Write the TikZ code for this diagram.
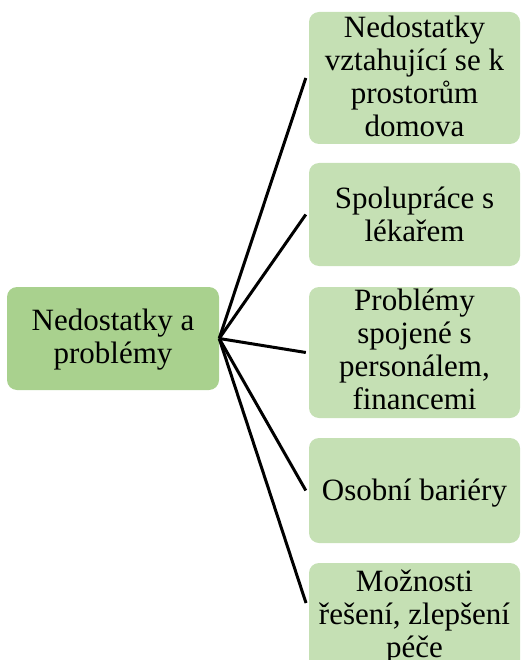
\documentclass[tikz,border=0pt]{standalone}
\usepackage{fontspec}
\setmainfont{Liberation Serif}
\definecolor{hubgreen}{HTML}{A9D18E}
\definecolor{leafgreen}{HTML}{C5E0B4}
\begin{document}
\begin{tikzpicture}[x=1pt,y=-1pt,
  box/.style={rectangle, rounded corners=10pt, inner sep=0pt, draw=none},
  hubbox/.style={box, fill=hubgreen},
  leafbox/.style={box, fill=leafgreen, minimum width=211pt},
  txt/.style={font=\fontsize{31}{33}\selectfont, align=center, anchor=base, inner sep=0pt},
  link/.style={line width=3pt, black}]
\useasboundingbox (0,0) rectangle (521,660);
\clip (0,0) rectangle (521,660);
% boxes
\node[hubbox, minimum width=212pt, minimum height=103pt] (L) at (113,338.5) {};
\node[leafbox, minimum height=132pt] (R1) at (414.5,78) {};
\node[leafbox, minimum height=103pt] (R2) at (414.5,214.5) {};
\node[leafbox, minimum height=131pt] (R3) at (414.5,352.5) {};
\node[leafbox, minimum height=105pt] (R4) at (414.5,490.5) {};
\node[leafbox, minimum height=117pt] (R5) at (414.5,621.5) {};
% texts (anchor = baseline of last line)
\node[txt] (TL) at (113,363) {Nedostatky a\\problémy};
\node[txt] (T1) at (414.5,137) {Nedostatky\\vztahující se k\\prostorům\\domova};
\node[txt] (T2) at (414.5,241) {Spolupráce s\\lékařem};
\node[txt] (T3) at (414.5,409) {Problémy\\spojené s\\personálem,\\financemi};
\node[txt] (T4) at (414.5,500) {Osobní bariéry};
\node[txt] (T5) at (414.5,657) {Možnosti\\řešení, zlepšení\\péče};
% connectors
\coordinate (c5) at (306,603);
\draw[link] (L.east) -- ([xshift=-3pt]R1.west);
\draw[link] (L.east) -- ([xshift=-3pt]R2.west);
\draw[link] (L.east) -- ([xshift=-3pt]R3.west);
\draw[link] (L.east) -- ([xshift=-3pt]R4.west);
\draw[link] (L.east) -- (c5);
\end{tikzpicture}
\end{document}
